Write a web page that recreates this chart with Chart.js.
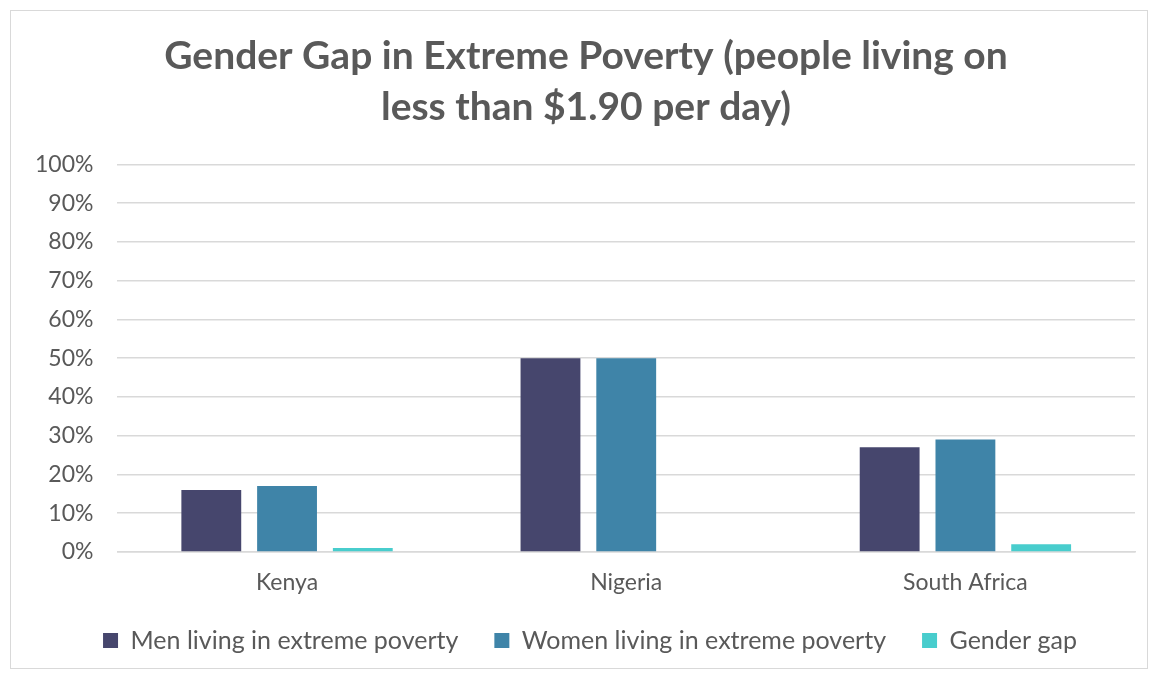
<!DOCTYPE html>
<html>
<head>
<meta charset="utf-8">
<script src="https://cdn.jsdelivr.net/npm/chart.js@4"></script>
<style>
  html, body { margin: 0; padding: 0; background: #fff; }
  #frame {
    position: absolute; left: 10px; top: 10px;
    width: 1136px; height: 657px;
    border: 1px solid #d9d9d9; background: #fff;
  }
  canvas { display: block; }
</style>
</head>
<body>
<div id="frame"><canvas id="chart" width="1136" height="657"></canvas></div>
<script>
// Data
const countries = ["Kenya", "Nigeria", "South Africa"];
const menPoverty = [16, 50, 27];
const womenPoverty = [17, 50, 29];
const genderGap = [1, 0, 2];
const seriesNames = ["Men living in extreme poverty", "Women living in extreme poverty", "Gender gap"];

const grey = "#595959";
const ctx = document.getElementById("chart").getContext("2d");

// nudge title and legend a bit, like the original
const blockShift = {
    id: "blockShift",
    afterLayout(chart) {
        chart.titleBlock.left += 13;
        chart.titleBlock.right += 13;
        chart.legend.left += 17;
        chart.legend.right += 17;
        chart.legend.top -= 5;
        chart.legend.bottom -= 5;
    }
};

new Chart(ctx, {
    type: "bar",
    data: {
        labels: countries,
        datasets: [
            { label: seriesNames[0], data: menPoverty, backgroundColor: "#46466d" },
            { label: seriesNames[1], data: womenPoverty, backgroundColor: "#3f84a8" },
            { label: seriesNames[2], data: genderGap, backgroundColor: "#48cdcd" }
        ]
    },
    plugins: [blockShift],
    options: {
        responsive: false,
        animation: false,
        layout: { padding: { left: 0, right: 12, top: 20, bottom: 0 } },
        datasets: {
            bar: { categoryPercentage: 0.67, barPercentage: 0.79 }
        },
        plugins: {
            title: {
                display: true,
                text: ["Gender Gap in Extreme Poverty (people living on", "less than $1.90 per day)"],
                color: grey,
                font: { family: "Lato", size: 39, weight: "bold", lineHeight: 1.3 },
                padding: { top: 0, bottom: 32 }
            },
            legend: {
                position: "bottom",
                labels: {
                    color: grey,
                    font: { family: "Lato", size: 25 },
                    boxWidth: 15,
                    boxHeight: 15,
                    padding: 36
                }
            },
            tooltip: { enabled: false }
        },
        scales: {
            x: {
                grid: { display: false, drawTicks: false },
                border: { color: "#d9d9d9", width: 1.5 },
                ticks: { color: grey, font: { family: "Lato", size: 23 }, padding: 17 },
                afterFit: scale => { scale.height = 45; }
            },
            y: {
                min: 0,
                max: 100,
                ticks: {
                    stepSize: 10,
                    color: grey,
                    font: { family: "Lato", size: 23 },
                    padding: 24,
                    callback: v => v + "%"
                },
                grid: { color: "#d9d9d9", lineWidth: 1.5, drawTicks: false },
                border: { display: false }
            }
        }
    }
});
</script>
</body>
</html>
